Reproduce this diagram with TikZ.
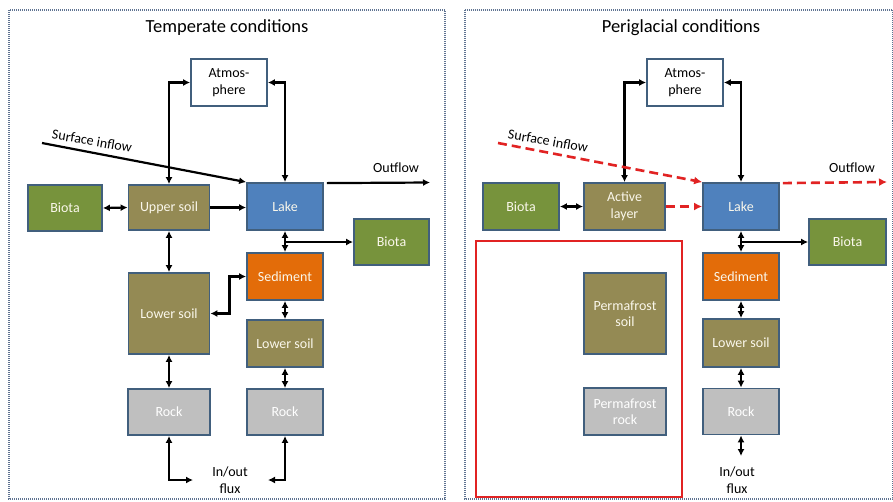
\documentclass[tikz,border=0pt]{standalone}
\usepackage{fontspec}
\setmainfont{Carlito}
\usetikzlibrary{arrows.meta}

\definecolor{frameblue}{RGB}{95,115,145}
\definecolor{edgeblue}{RGB}{65,95,125}
\definecolor{biotagreen}{RGB}{119,147,60}
\definecolor{soilolive}{RGB}{148,138,84}
\definecolor{lakeblue}{RGB}{79,129,189}
\definecolor{sedorange}{RGB}{227,108,9}
\definecolor{rockgray}{RGB}{191,191,191}
\definecolor{flowred}{RGB}{225,35,35}
\definecolor{boxtext}{RGB}{250,247,235}

\tikzset{
  panel/.style={draw=frameblue, line width=1.2pt, dash pattern=on 1pt off 1pt},
  box/.style={draw=edgeblue, line width=1.8pt, text=boxtext, align=center,
    inner sep=0pt, font=\fontsize{14}{16.5}\selectfont},
  atmbox/.style={box, fill=white, text=black},
  biotabox/.style={box, fill=biotagreen},
  soilbox/.style={box, fill=soilolive},
  lakebox/.style={box, fill=lakeblue},
  sedbox/.style={box, fill=sedorange},
  rockbox/.style={box, fill=rockgray, text=white},
  flow/.style={line width=2.2pt, -{Latex[length=7pt,width=7pt]}},
  duplex/.style={line width=2.2pt, {Latex[length=7pt,width=7pt]}-{Latex[length=7pt,width=7pt]}},
  redflow/.style={line width=2.6pt, draw=flowred, dash pattern=on 9pt off 5pt,
    -{Latex[length=8pt,width=8pt]}},
  title/.style={font=\fontsize{18.5}{22}\selectfont},
  label/.style={font=\fontsize{14}{16.5}\selectfont, align=center}
}

\begin{document}
\begin{tikzpicture}[x=1pt,y=-1pt]
\useasboundingbox (0,0) rectangle (893,501);
\fill[white] (0,0) rectangle (893,501);

% ---------- panel frames ----------
\draw[panel] (9,10) rectangle (445,499);
\draw[panel] (465,10) rectangle (892.5,499);

% =============== Temperate conditions ===============
\node[title] (tT) at (227,28) {Temperate conditions};

\node[atmbox, minimum width=76, minimum height=47] (atmL) at (229,82.5) {Atmos-\\phere};
\node[biotabox, minimum width=74, minimum height=46] (biotaL1) at (65,208) {Biota};
\node[soilbox, minimum width=81, minimum height=45] (upperL) at (169,207.5) {Upper soil};
\node[lakebox, minimum width=76, minimum height=47] (lakeL) at (285,206.5) {Lake};
\node[biotabox, minimum width=75, minimum height=46] (biotaL2) at (391.5,242) {Biota};
\node[sedbox, minimum width=76, minimum height=47] (sedL) at (285,276.5) {Sediment};
\node[soilbox, minimum width=81, minimum height=81] (lowL1) at (169,313.5) {Lower soil};
\node[soilbox, minimum width=76, minimum height=47] (lowL2) at (285,343.5) {Lower soil};
\node[rockbox, minimum width=82, minimum height=46] (rockL1) at (169,412) {Rock};
\node[rockbox, minimum width=76, minimum height=46] (rockL2) at (285,412) {Rock};

\node[label] (ioL) at (230,480) {In/out\\flux};
\node[label, rotate=-10] (sinLt) at (92,141) {Surface inflow};
\node[label] (outLt) at (396,168) {Outflow};

\coordinate (sinL) at (42,143);
\coordinate (outL) at (430,182.5);
\coordinate (brL) at (285,242);
\coordinate (ioL1) at (193,480);
\coordinate (ioL2) at (268,480);

\draw[duplex] (upperL.north) |- (atmL.west);
\draw[duplex] (atmL.east) -| (lakeL.north);
\draw[flow] (sinL) -- (lakeL.north west);
\draw[flow] ([xshift=3pt,yshift=-1pt]lakeL.north east) -- (outL);
\draw[duplex] (biotaL1.east) -- (upperL.west);
\draw[flow] (upperL.east) -- (lakeL.west |- upperL.east);
\draw[duplex] (upperL.south) -- (lowL1.north);
\draw[duplex] (lakeL.south) -- (sedL.north);
\draw[flow] (brL) -- (biotaL2.west);
\draw[duplex] (lowL1.east) -- ++(19,0) |- (sedL.west);
\draw[duplex] (sedL.south) -- (lowL2.north);
\draw[duplex] (lowL2.south) -- (rockL2.north);
\draw[duplex] (lowL1.south) -- (rockL1.north);
\draw[duplex] (rockL1.south) |- (ioL1);
\draw[duplex] (rockL2.south) |- (ioL2);

% =============== Periglacial conditions ===============
\node[title] (tP) at (681,28) {Periglacial conditions};

\draw[flowred, line width=1.5pt] (476,241) rectangle (682,497);

\node[atmbox, minimum width=76, minimum height=47] (atmR) at (685,82.5) {Atmos-\\phere};
\node[biotabox, minimum width=76, minimum height=47] (biotaR1) at (521,206.5) {Biota};
\node[soilbox, minimum width=81, minimum height=47] (activeR) at (624.5,206.5) {Active\\layer};
\node[lakebox, minimum width=76, minimum height=47] (lakeR) at (741,206.5) {Lake};
\node[biotabox, minimum width=77, minimum height=46] (biotaR2) at (847.5,242) {Biota};
\node[sedbox, minimum width=76, minimum height=47] (sedR) at (741,276.5) {Sediment};
\node[soilbox, minimum width=76, minimum height=48] (lowR) at (741,343) {Lower soil};
\node[rockbox, minimum width=76, minimum height=46] (rockR) at (741,411.5) {Rock};
\node[soilbox, minimum width=82, minimum height=81] (pfsoil) at (625,313.5) {Permafrost\\soil};
\node[rockbox, minimum width=82, minimum height=47] (pfrock) at (625,411.5) {Permafrost\\rock};

\node[label] (ioR) at (737,480) {In/out\\flux};
\node[label, rotate=-10] (sinRt) at (548,141) {Surface inflow};
\node[label] (outRt) at (852,168) {Outflow};

\coordinate (sinR) at (498,143);
\coordinate (outR) at (887,182);
\coordinate (brR) at (741,242);
\coordinate (ioR1) at (741,456);

\draw[duplex] (activeR.north) |- (atmR.west);
\draw[duplex] (atmR.east) -| (lakeR.north);
\draw[redflow] (sinR) -- (lakeR.north west);
\draw[redflow] ([xshift=3pt,yshift=-1pt]lakeR.north east) -- (outR);
\draw[duplex] (biotaR1.east) -- (activeR.west);
\draw[redflow] (activeR.east) -- (lakeR.west |- activeR.east);
\draw[duplex] (lakeR.south) -- (sedR.north);
\draw[flow] (brR) -- (biotaR2.west);
\draw[duplex] (sedR.south) -- (lowR.north);
\draw[duplex] (lowR.south) -- (rockR.north);
\draw[duplex] (rockR.south) -- (ioR1);
\end{tikzpicture}
\end{document}
